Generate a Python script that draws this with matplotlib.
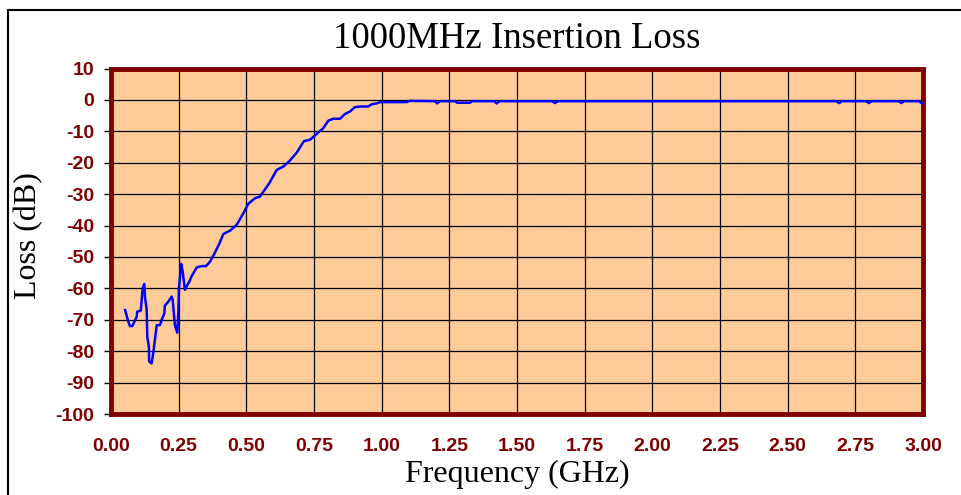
import numpy as np
import matplotlib
matplotlib.use("Agg")
import matplotlib.pyplot as plt
from matplotlib.patches import Rectangle

# data (GHz, dB)
freq_ghz = [0.052, 0.064, 0.070, 0.079, 0.095, 0.097, 0.110, 0.117, 0.123, 0.126,
            0.132, 0.134, 0.140, 0.141, 0.150, 0.156, 0.169, 0.181, 0.187, 0.197,
            0.199, 0.212, 0.224, 0.228, 0.236, 0.245, 0.249, 0.251, 0.259, 0.265,
            0.273, 0.282, 0.289, 0.298, 0.317, 0.335, 0.351, 0.366, 0.384, 0.400,
            0.415, 0.440, 0.464, 0.489, 0.507, 0.532, 0.550, 0.563, 0.585, 0.612,
            0.637, 0.661, 0.686, 0.713, 0.735, 0.760, 0.784, 0.803, 0.821, 0.846,
            0.864, 0.883, 0.901, 0.920, 0.950, 0.963, 0.982, 0.994, 1.092, 1.104,
            1.197, 1.205, 1.215, 1.270, 1.280, 1.326, 1.335, 1.415, 1.425, 1.435,
            1.630, 1.640, 1.650, 2.680, 2.690, 2.700, 2.790, 2.800, 2.810, 2.910,
            2.920, 2.930, 2.985, 2.995, 3.000]
loss_db = [-66.9, -70.6, -72.0, -72.0, -69.0, -67.4, -67.1, -60.0, -58.6, -63.1,
           -66.9, -75.4, -78.6, -83.3, -83.9, -80.7, -71.7, -71.7, -70.1, -68.0,
           -65.5, -64.2, -62.6, -63.7, -71.7, -74.1, -66.9, -60.0, -52.2, -54.7,
           -60.5, -58.9, -57.9, -56.1, -53.3, -52.9, -52.9, -51.5, -48.6, -45.8,
           -42.7, -41.6, -39.8, -36.1, -33.1, -31.3, -30.8, -29.2, -26.5, -22.3,
           -21.2, -19.3, -16.8, -13.1, -12.7, -10.8, -9.0, -6.6, -6.0, -6.0,
           -4.5, -3.7, -2.3, -2.1, -2.1, -1.4, -1.1, -0.7, -0.7, -0.3,
           -0.4, -1.1, -0.4, -0.4, -0.9, -0.9, -0.4, -0.4, -1.1, -0.4,
           -0.4, -1.0, -0.4, -0.4, -1.0, -0.4, -0.4, -1.0, -0.4, -0.4,
           -1.0, -0.4, -0.4, -1.0, -1.2]

x_ticks = np.arange(0, 3.01, 0.25)
y_ticks = np.arange(-100, 11, 10)

darkred = '#800000'
serif = ['Liberation Serif', 'DejaVu Serif']
plt.rcParams['axes.unicode_minus'] = False

fig = plt.figure(figsize=(9.61, 4.95), dpi=100)
ax = fig.add_axes([0.1155, 0.1636, 0.845, 0.698])
ax.set_facecolor('#FFCC99')

ax.plot(freq_ghz, loss_db, color='#0000FF', lw=1.8, zorder=3)

ax.set_xlim(0, 3)
ax.set_ylim(-100, 10)
ax.set_xticks(x_ticks)
ax.set_yticks(y_ticks)
ax.set_xticklabels(['%.2f' % t for t in x_ticks])
ax.grid(True, color='black', lw=0.9, zorder=1)
ax.set_axisbelow(True)

for s in ax.spines.values():
    s.set_color(darkred)
    s.set_linewidth(3.5)

ax.tick_params(axis='x', length=0, pad=17, labelcolor=darkred)
ax.tick_params(axis='y', length=5, width=1, color='black', pad=7, labelcolor=darkred)
for lab in ax.get_xticklabels() + ax.get_yticklabels():
    lab.set_fontfamily(['Liberation Sans', 'DejaVu Sans'])
    lab.set_fontweight('bold')
    lab.set_fontsize(14)

ax.set_title('1000MHz Insertion Loss', family=serif, fontsize=26.5, pad=15)
ax.set_xlabel('Frequency (GHz)', family=serif, fontsize=23, labelpad=4)
ax.set_ylabel('Loss (dB)', family=serif, fontsize=23)
ax.yaxis.set_label_coords(-0.0837, 0.517)

# outer chart border (only left and top visible)
fig.patches.append(Rectangle((7.5 / 961, -0.1), 1.2, 1 - 9.5 / 495 + 0.1,
                             transform=fig.transFigure, fill=False,
                             edgecolor='black', lw=1.5))

fig.savefig('out.png', dpi=100)
